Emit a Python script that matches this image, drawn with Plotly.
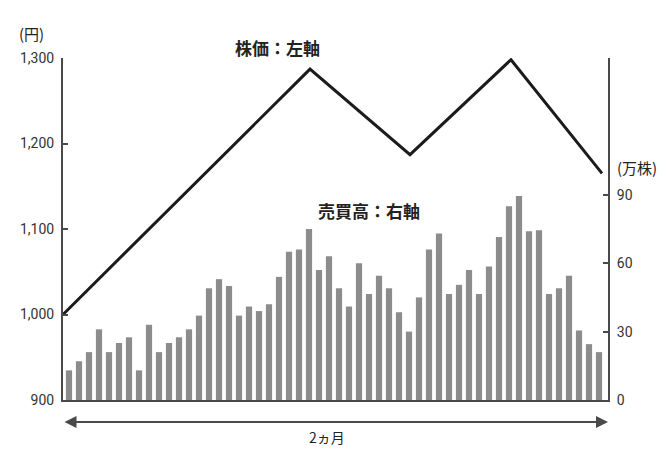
import plotly.graph_objects as go

# 売買高（万株）: 2ヵ月分の日次
days = list(range(54))
volume = [13, 17, 21, 31, 21, 25, 27.5, 13, 33, 21, 25, 27.5, 31, 37,
          49, 53, 50, 37, 41, 39, 42, 54, 65, 66, 75, 57, 63, 49,
          41, 60, 46.5, 54.5, 49, 38.5, 30, 45, 66, 73, 46.5, 50.5,
          57, 46.5, 58.5, 71.5, 85, 89.5, 74, 74.5, 46.5, 49, 54.5, 30.5,
          24.5, 21]

# 株価（円）: 折れ線の頂点
price_x = [-0.6, 24.1, 34.1, 44.2, 53.3]
price = [1000, 1287, 1187, 1298, 1165]

left_ticks = [900, 1000, 1100, 1200, 1300]
left_labels = ["900", "1,000", "1,100", "1,200", "1,300"]
right_ticks = [0, 30, 60, 90]

axis_color = "#4a4a4a"
num_font = dict(family="Roboto", size=14, color="#333333")
jp_font = "Noto Sans CJK JP"

fig = go.Figure()

# 売買高の棒（右軸）
fig.add_trace(go.Bar(
    x=days, y=volume, yaxis="y2",
    marker=dict(color="#8c8c8c", line=dict(width=0)),
    width=0.62,
))

# 株価の折れ線（左軸）
fig.add_trace(go.Scatter(
    x=price_x, y=price, mode="lines",
    line=dict(color="#1c1a1a", width=3),
))

# ページ本体の余白(8px)を見込んだマージン
fig.update_layout(
    width=670, height=455,
    margin=dict(l=55, r=70, t=50, b=63),
    paper_bgcolor="white", plot_bgcolor="white",
    showlegend=False,
    xaxis=dict(
        range=[-0.6, 53.9], showgrid=False, zeroline=False,
        showticklabels=False, ticks="",
        showline=True, linecolor=axis_color, linewidth=2,
    ),
    yaxis=dict(
        range=[900, 1300], tickvals=left_ticks, ticktext=left_labels,
        showgrid=False, zeroline=False,
        showline=True, linecolor=axis_color, linewidth=2,
        ticks="inside", ticklen=5, tickwidth=2, tickcolor=axis_color,
        tickfont=num_font, ticklabelstandoff=4,
    ),
    yaxis2=dict(
        range=[0, 150], tickvals=right_ticks, overlaying="y", side="right",
        showgrid=False, zeroline=False,
        showline=True, linecolor=axis_color, linewidth=2,
        ticks="inside", ticklen=5, tickwidth=2, tickcolor=axis_color,
        tickfont=num_font, ticklabelstandoff=4,
    ),
)

# 期間を示す両矢印
fig.add_annotation(
    x=53.9, y=-0.064, xref="x", yref="paper",
    ax=-0.6, ay=0, axref="x", ayref="pixel",
    text="", showarrow=True, arrowside="end+start",
    arrowhead=2, arrowsize=1.2, arrowwidth=2, arrowcolor=axis_color,
)

texts = [
    dict(text="2ヵ月", x=0.485, y=-0.108, size=14, bold=False),
    dict(text="株価：左軸", x=0.394, y=1.03, size=17, bold=True),
    dict(text="売買高：右軸", x=0.562, y=0.555, size=17, bold=True),
    dict(text="(円)", x=-0.058, y=1.073, size=15, bold=False),
    dict(text="(万株)", x=1.053, y=0.681, size=15, bold=False),
]
for t in texts:
    fig.add_annotation(
        text=f"<b>{t['text']}</b>" if t["bold"] else t["text"],
        x=t["x"], y=t["y"], xref="paper", yref="paper",
        xanchor="center", yanchor="middle", showarrow=False,
        font=dict(family=jp_font, size=t["size"], color="#222222"),
    )

fig.write_html("out.html")
